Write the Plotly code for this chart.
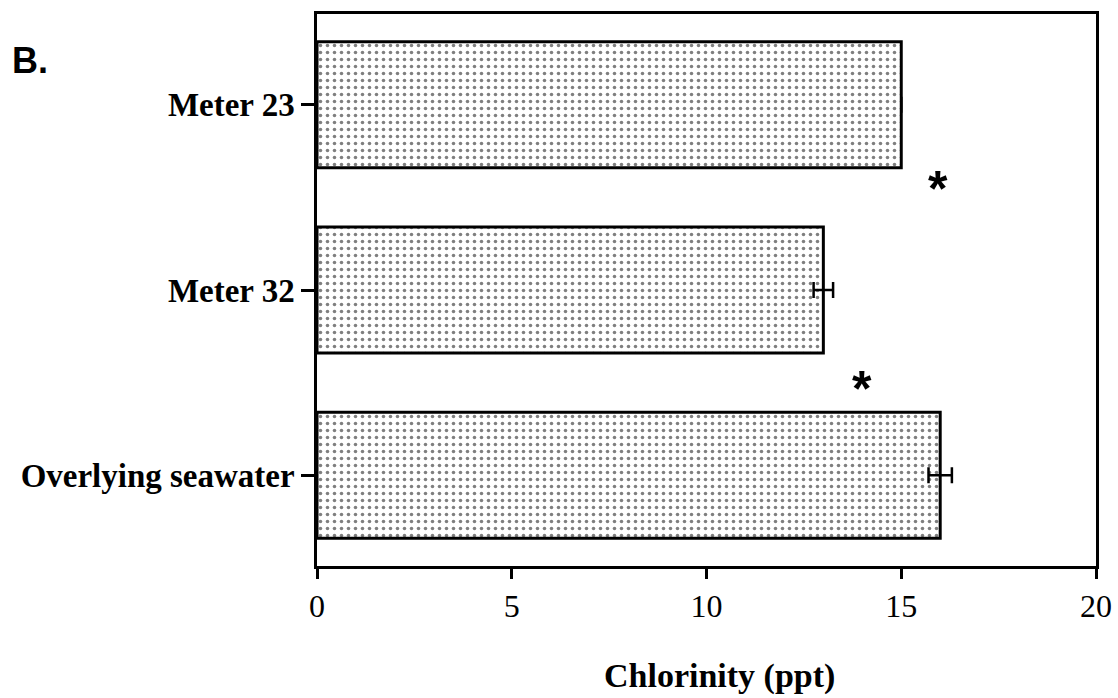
import plotly.graph_objects as go

categories = ["Meter 23", "Meter 32", "Overlying seawater"]
values = [15.0, 13.0, 16.0]
errors = [0.0, 0.25, 0.3]
x_ticks = [0, 5, 10, 15, 20]
star_x = [15.95, 14.0]
star_y = [0.42, 1.50]

fig = go.Figure()
fig.add_trace(go.Bar(
    y=categories, x=values, orientation="h", width=0.68,
    marker=dict(color="white", line=dict(color="black", width=3),
                pattern=dict(shape=".", fgcolor="black", bgcolor="white",
                             size=7, solidity=0.2, fillmode="overlay")),
    error_x=dict(type="data", array=errors, visible=True, color="black",
                 thickness=2.5, width=8),
))

for sx, sy in zip(star_x, star_y):
    fig.add_annotation(x=sx, y=sy, xref="x", yref="y", text="<b>*</b>",
                       showarrow=False, yshift=-6,
                       font=dict(family="Liberation Sans", size=50, color="black"))

fig.add_annotation(x=0.517, y=-0.199, xref="paper", yref="paper",
                   xanchor="center", yanchor="middle",
                   text="<b>Chlorinity (ppt)</b>", showarrow=False,
                   font=dict(family="Liberation Serif", size=34, color="black"))
fig.add_annotation(x=-0.394, y=0.915, xref="paper", yref="paper",
                   text="<b>B.</b>", showarrow=False, xanchor="left", yanchor="middle",
                   font=dict(family="Liberation Sans", size=36, color="black"))

fig.update_layout(
    width=1118, height=698,
    margin=dict(l=317, r=22, t=14, b=132),
    paper_bgcolor="white", plot_bgcolor="white",
    showlegend=False,
    xaxis=dict(range=[0, 20], tickvals=x_ticks, ticks="outside", ticklen=10,
               tickwidth=2.5, tickcolor="black", showline=True, linewidth=2.5,
               linecolor="black", mirror=True, showgrid=False, zeroline=False,
               automargin=False,
               tickfont=dict(family="Liberation Serif", size=32, color="black")),
    yaxis=dict(categoryorder="array", categoryarray=categories,
               autorange=False, range=[2.49, -0.49], ticks="outside", ticklen=13,
               tickwidth=2.5, tickcolor="black", showline=True, linewidth=2.5,
               linecolor="black", mirror=True, showgrid=False, zeroline=False,
               ticklabelstandoff=0, automargin=False,
               tickfont=dict(family="Liberation Serif", size=33, color="black"),
               tickprefix="<b>", ticksuffix="</b>"),
)

fig.write_html("out.html", config={"displayModeBar": False},
               post_script="document.body.style.margin='0';document.body.style.overflow='hidden';")
